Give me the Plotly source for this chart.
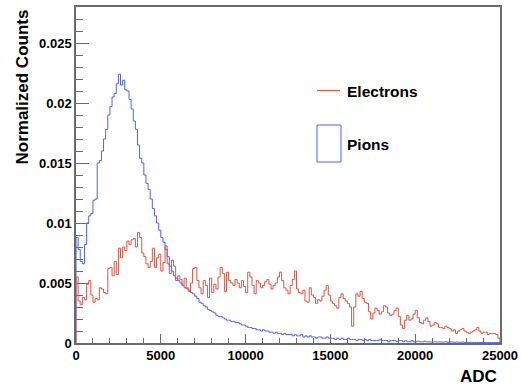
import plotly.graph_objects as go

# ---- data ----
bin_width = 125
x_min, x_max = 0, 25000

pions = [
    0.0088, 0.0078, 0.0068, 0.0066, 0.0082, 0.0100, 0.0106, 0.0108, 0.0119, 0.0120,
    0.0150, 0.0152, 0.0160, 0.0170, 0.0178, 0.0190, 0.0197, 0.0205, 0.0208, 0.0216,
    0.0224, 0.0215, 0.0219, 0.0211, 0.0210, 0.0203, 0.0195, 0.0185, 0.0178, 0.0165,
    0.0154, 0.0150, 0.0140, 0.0133, 0.0128, 0.0120, 0.0112, 0.0106, 0.0100, 0.0094,
    0.0088, 0.0084, 0.0078, 0.0072, 0.0064, 0.0060, 0.0056, 0.0054, 0.0052, 0.0050,
    0.0048, 0.0046, 0.0045, 0.0044, 0.0042, 0.0041, 0.0039, 0.0037, 0.0034, 0.0033,
    0.0031, 0.0030, 0.0028, 0.0027, 0.0026, 0.0025, 0.0023, 0.0022, 0.0022, 0.0021,
    0.0020, 0.0019, 0.0019, 0.0018, 0.0018, 0.0017, 0.0017, 0.0016, 0.0015, 0.0015,
    0.0014, 0.0013, 0.0013, 0.0012, 0.0012, 0.0011, 0.0011, 0.0010, 0.0011, 0.0010,
    0.0010, 0.0009, 0.0009, 0.0008, 0.0009, 0.0008, 0.0008, 0.0007, 0.0008, 0.0007,
    0.0007, 0.0007, 0.0006, 0.0007, 0.0006, 0.0006, 0.0007, 0.0005, 0.0006, 0.0005,
    0.0006, 0.0005, 0.0005, 0.0004, 0.0005, 0.0005, 0.0004, 0.0004, 0.0005, 0.0004,
    0.0004, 0.0004, 0.0003, 0.0004, 0.0003, 0.0004, 0.0003, 0.0003, 0.0004, 0.0003,
    0.0003, 0.0003, 0.0002, 0.0003, 0.0003, 0.0002, 0.0003, 0.0002, 0.0003, 0.0002,
    0.0002, 0.0002, 0.0002, 0.0003, 0.0002, 0.0002, 0.0002, 0.0001, 0.0002, 0.0002,
    0.0002, 0.0001, 0.0002, 0.0002, 0.0001, 0.0002, 0.0001, 0.0001, 0.0002, 0.0001,
    0.0001, 0.00015, 0.0001, 0.0001, 0.00015, 0.0001, 0.0001, 0.00008, 0.0001, 0.0001,
    0.00008, 0.0001, 0.00008, 0.00008, 0.0001, 0.00006, 0.00008, 0.00008, 0.00006, 0.00008,
    0.00006, 0.00006, 0.00008, 0.00005, 0.00006, 0.00005, 0.00006, 0.00004, 0.00005, 0.00005,
    0.00004, 0.00005, 0.00004, 0.00003, 0.00004, 0.00004, 0.00003, 0.00004, 0.00003, 0.00003,
]

electrons = [
    0.0055, 0.0035, 0.0032, 0.0038, 0.0036, 0.0049, 0.0052, 0.0040, 0.0034, 0.0037,
    0.0036, 0.0046, 0.0045, 0.0042, 0.0041, 0.0062, 0.0063, 0.0056, 0.0068, 0.0057,
    0.0079, 0.0071, 0.0080, 0.0077, 0.0085, 0.0082, 0.0086, 0.0087, 0.0080, 0.0092,
    0.0088, 0.0075, 0.0072, 0.0066, 0.0063, 0.0068, 0.0079, 0.0063, 0.0071, 0.0074,
    0.0060, 0.0067, 0.0081, 0.0066, 0.0058, 0.0069, 0.0064, 0.0052, 0.0056, 0.0053,
    0.0048, 0.0054, 0.0046, 0.0043, 0.0050, 0.0062, 0.0063, 0.0052, 0.0046, 0.0041,
    0.0052, 0.0048, 0.0038, 0.0054, 0.0042, 0.0049, 0.0045, 0.0055, 0.0063, 0.0058,
    0.0043, 0.0059, 0.0052, 0.0050, 0.0048, 0.0053, 0.0050, 0.0046, 0.0052, 0.0047,
    0.0042, 0.0059, 0.0055, 0.0048, 0.0041, 0.0052, 0.0050, 0.0046, 0.0048, 0.0051,
    0.0053, 0.0049, 0.0045, 0.0048, 0.0050, 0.0055, 0.0059, 0.0052, 0.0046, 0.0044,
    0.0041, 0.0048, 0.0053, 0.0060, 0.0045, 0.0042, 0.0041, 0.0044, 0.0035, 0.0034,
    0.0046, 0.0040, 0.0038, 0.0033, 0.0036, 0.0035, 0.0039, 0.0044, 0.0048, 0.0040,
    0.0035, 0.0033, 0.0031, 0.0029, 0.0038, 0.0041, 0.0037, 0.0035, 0.0033, 0.0030,
    0.0014, 0.0030, 0.0041, 0.0039, 0.0043, 0.0037, 0.0034, 0.0033, 0.0026, 0.0020,
    0.0025, 0.0029, 0.0027, 0.0024, 0.0026, 0.0031, 0.0030, 0.0025, 0.0023, 0.0024,
    0.0027, 0.0029, 0.0022, 0.0015, 0.0012, 0.0019, 0.0023, 0.0019, 0.0020, 0.0024,
    0.0027, 0.0021, 0.0017, 0.0016, 0.0019, 0.0021, 0.0018, 0.0014, 0.0015, 0.0017,
    0.0016, 0.0013, 0.0013, 0.0012, 0.0014, 0.0013, 0.0012, 0.0010, 0.0011, 0.0008,
    0.0010, 0.0011, 0.0012, 0.0010, 0.0009, 0.0008, 0.0009, 0.0010, 0.0011, 0.0013,
    0.0010, 0.0008, 0.0009, 0.0009, 0.0007, 0.0008, 0.0008, 0.0008, 0.0007, 0.0004,
]

series_names = ["Electrons", "Pions"]
x_tick_vals = [0, 5000, 10000, 15000, 20000, 25000]
y_tick_vals = [0, 0.005, 0.01, 0.015, 0.02, 0.025]

RED = "#dc5445"
BLUE = "#4d62f5"
FRAME = "#6a6a6a"
FONT = "Liberation Sans"


def step_xy(values):
    edges = [x_min + i * bin_width for i in range(len(values))]
    xs = [x_min] + edges + [x_min + len(values) * bin_width] * 2
    ys = [0] + list(values) + [values[-1], 0]
    return xs, ys


fig = go.Figure()
for vals, color, name in [(pions, BLUE, series_names[1]), (electrons, RED, series_names[0])]:
    xs, ys = step_xy(vals)
    fig.add_trace(go.Scatter(x=xs, y=ys, mode="lines", line=dict(color=color, width=1, shape="hv"),
                             name=name, showlegend=False, hoverinfo="skip"))

W, H = 521, 386
L, R, T, B = 76, 21, 7, 43
pw, ph = W - L - R, H - T - B


def px2paper(px, py):
    return (px - L) / pw, (H - B - py) / ph


axis_common = dict(showline=True, mirror=True, linecolor=FRAME, linewidth=1.5,
                   ticks="inside", tickcolor=FRAME, showgrid=False, zeroline=False,
                   automargin=False,
                   tickfont=dict(family=FONT, size=13, color="black", weight="bold"))

fig.update_layout(
    width=W, height=H, margin=dict(l=L, r=R, t=T, b=B),
    plot_bgcolor="white", paper_bgcolor="white",
    xaxis=dict(range=[x_min, x_max], tickvals=x_tick_vals, tickformat="d", ticklen=9,
               minor=dict(dtick=1000, ticklen=5, ticks="inside", tickcolor=FRAME),
               **axis_common),
    yaxis=dict(range=[0, 0.028], tickvals=y_tick_vals, ticklen=13,
               minor=dict(dtick=0.001, ticklen=7, ticks="inside", tickcolor=FRAME),
               **axis_common),
)

# axis titles (ROOT style: right/top aligned)
tx, ty = px2paper(22, 8)
fig.add_annotation(text="Normalized Counts", xref="paper", yref="paper", x=tx, y=ty,
                   xanchor="center", yanchor="top", textangle=-90, showarrow=False,
                   font=dict(family=FONT, size=17, color="black", weight="bold"))
ax_, ay_ = px2paper(499, 376)
fig.add_annotation(text="ADC", xref="paper", yref="paper", x=ax_, y=ay_,
                   xanchor="right", yanchor="middle", showarrow=False,
                   font=dict(family=FONT, size=17, color="black", weight="bold"))

# legend
lx0, ly = px2paper(317, 90.5)
lx1, _ = px2paper(340, 90.5)
fig.add_shape(type="line", xref="paper", yref="paper", x0=lx0, x1=lx1, y0=ly, y1=ly,
              line=dict(color=RED, width=1.2))
bx0, by0 = px2paper(317, 162)
bx1, by1 = px2paper(341, 125)
fig.add_shape(type="rect", xref="paper", yref="paper", x0=bx0, x1=bx1, y0=by0, y1=by1,
              line=dict(color=BLUE, width=1), fillcolor="rgba(0,0,0,0)")
ex, ey = px2paper(345, 91)
fig.add_annotation(text=series_names[0], xref="paper", yref="paper", x=ex, y=ey,
                   xanchor="left", yanchor="middle", showarrow=False,
                   font=dict(family=FONT, size=15.5, color="black", weight="bold"))
px_, py_ = px2paper(345, 144)
fig.add_annotation(text=series_names[1], xref="paper", yref="paper", x=px_, y=py_,
                   xanchor="left", yanchor="middle", showarrow=False,
                   font=dict(family=FONT, size=15.5, color="black", weight="bold"))

fig.write_html("out.html", config={"displayModeBar": False},
               post_script="document.body.style.margin='0';")
